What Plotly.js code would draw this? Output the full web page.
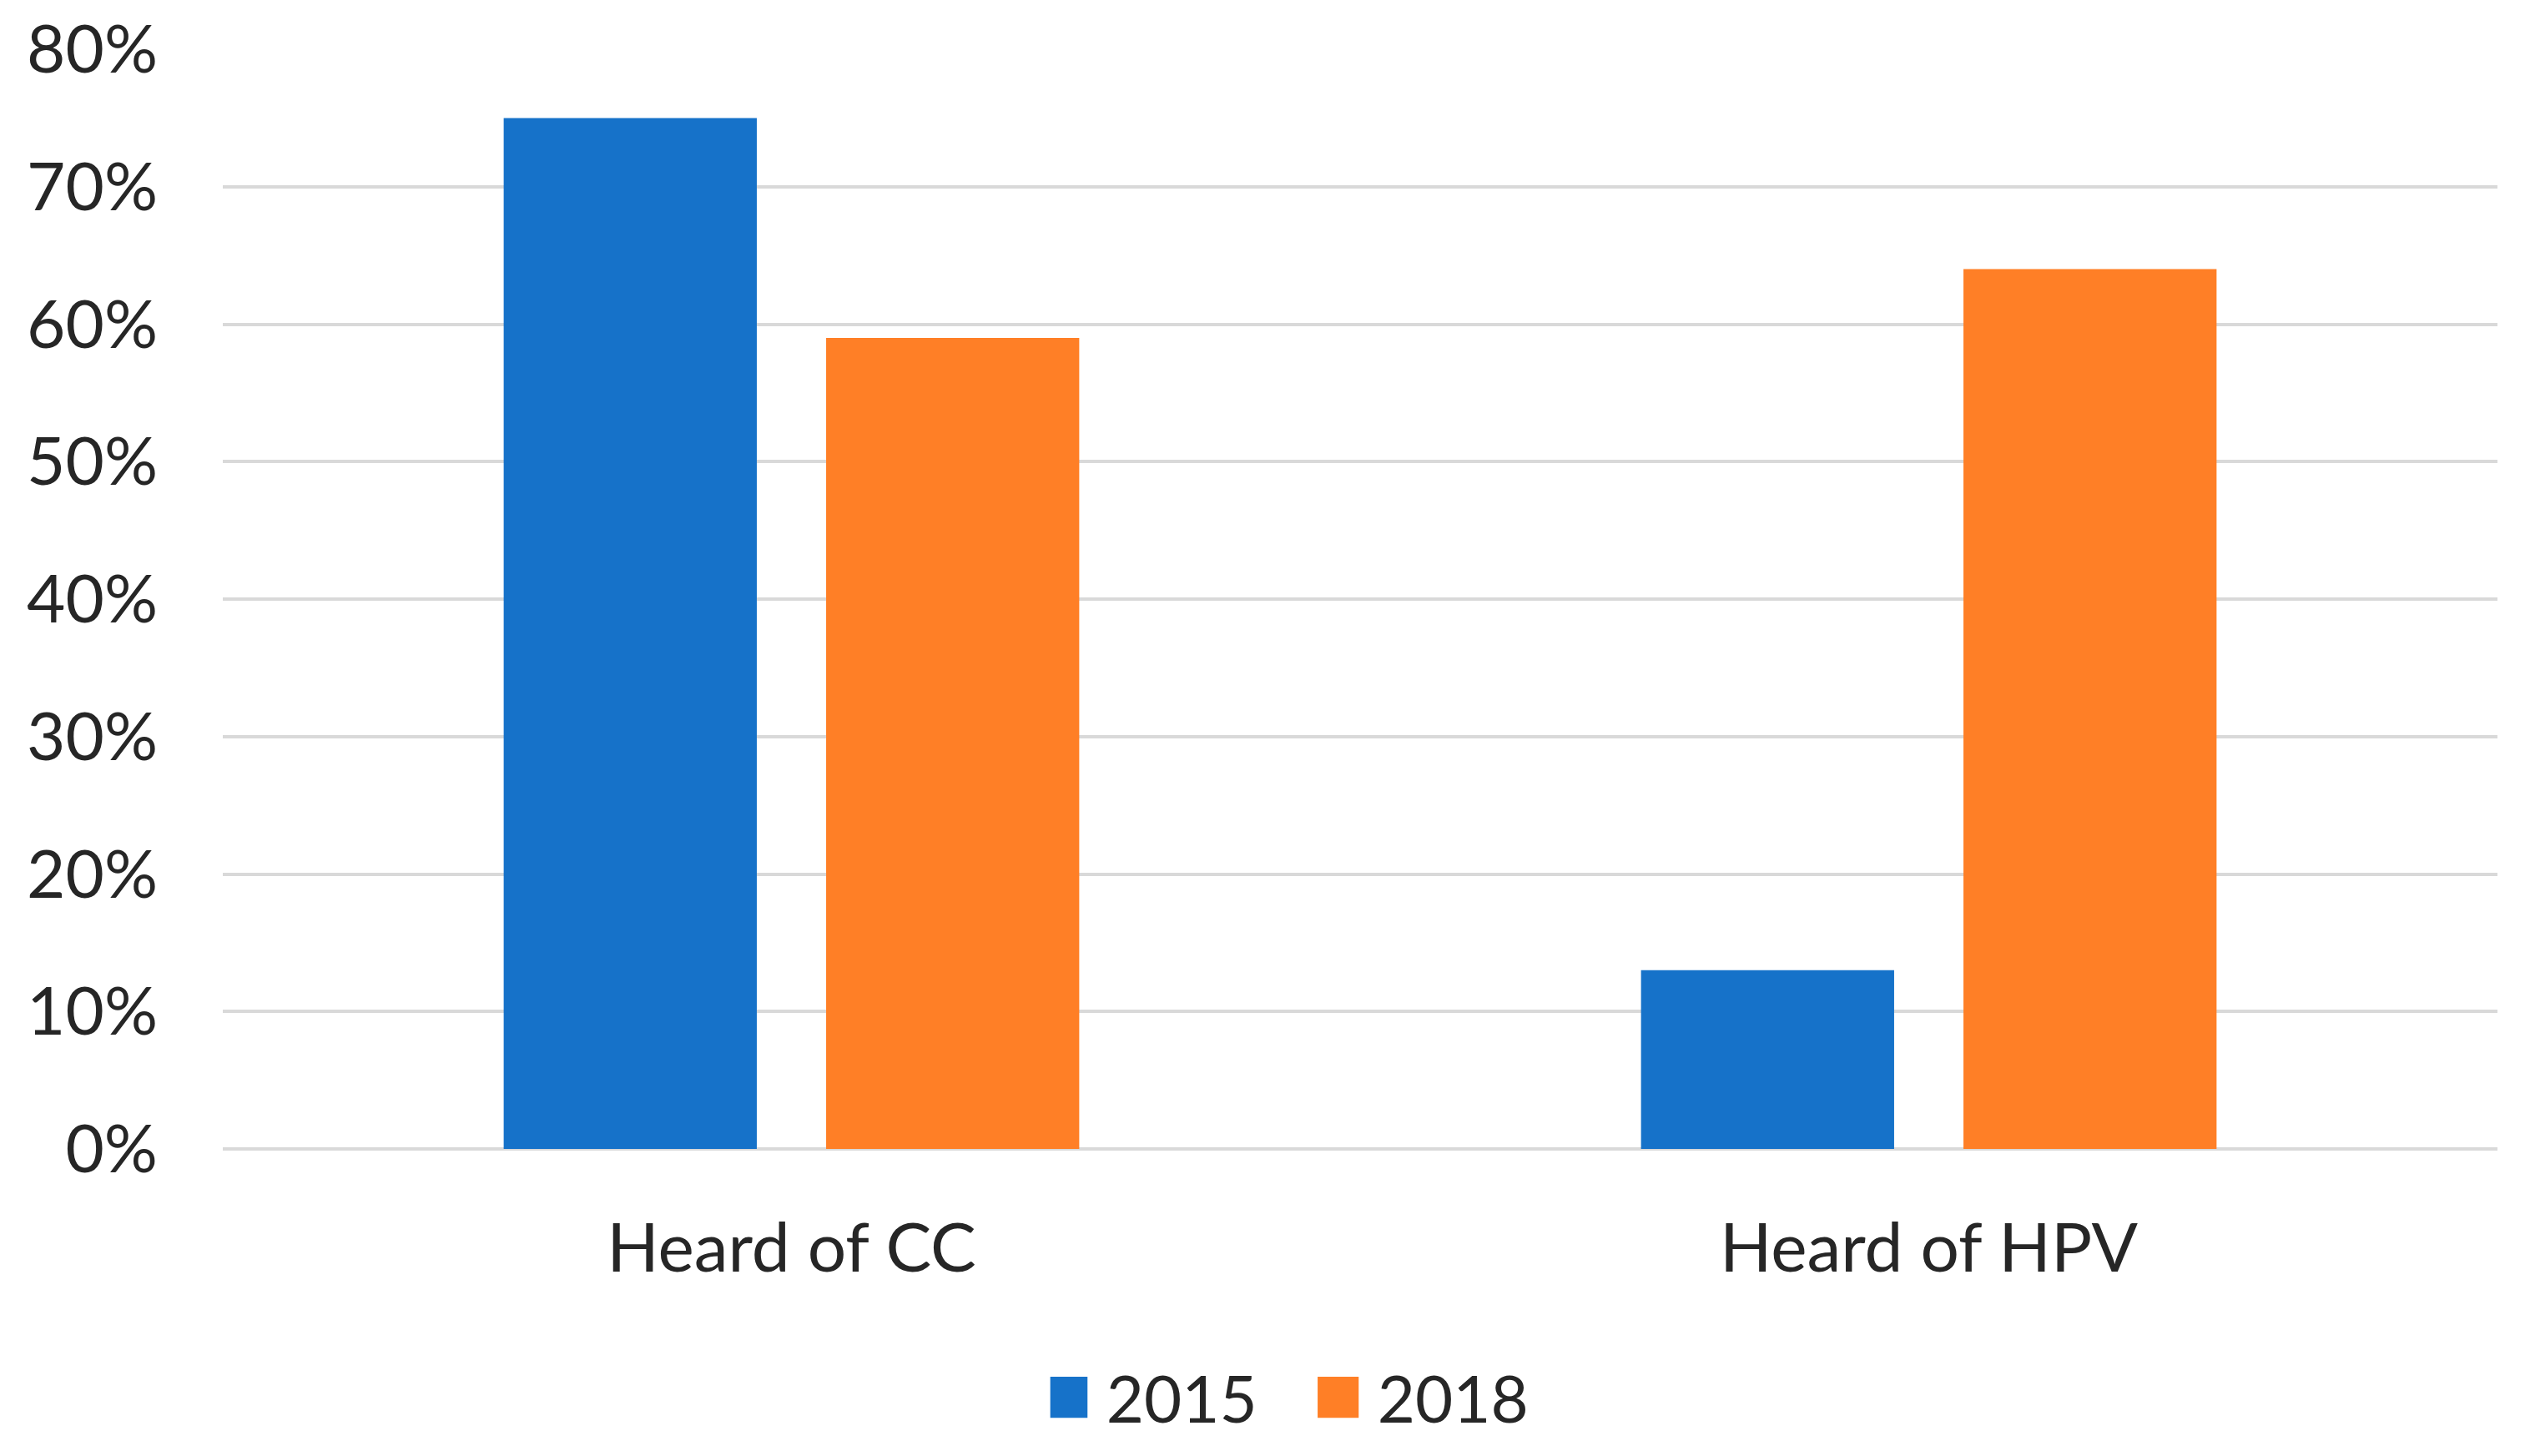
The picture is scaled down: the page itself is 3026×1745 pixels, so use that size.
<!DOCTYPE html>
<html>
<head>
<meta charset="utf-8">
<script src="https://cdn.plot.ly/plotly-3.0.1.min.js"></script>
<style>html,body{margin:0;padding:0;background:#fff;}</style>
</head>
<body>
<div id="chart" style="width:3026px;height:1745px;"></div>
<script>
const categories = ["Heard of CC", "Heard of HPV"];
const seriesNames = ["2015", "2018"];
const values2015 = [0.75, 0.13];
const values2018 = [0.59, 0.64];
const yTickVals = [0, 0.1, 0.2, 0.3, 0.4, 0.5, 0.6, 0.7, 0.8];
const yTickText = ["0%", "10%", "20%", "30%", "40%", "50%", "60%", "70%", "80%"];

const colors = ["#1672C9", "#FF7F26"];
const FONT = "Lato, 'Open Sans', sans-serif";

const traces = [
  {type: "bar", name: seriesNames[0], x: categories, y: values2015, marker: {color: colors[0]}, hoverinfo: "skip"},
  {type: "bar", name: seriesNames[1], x: categories, y: values2018, marker: {color: colors[1]}, hoverinfo: "skip"}
];

const layout = {
  width: 3026, height: 1745,
  margin: {l: 267, r: 33, t: 59, b: 368, pad: 0},
  paper_bgcolor: "#ffffff", plot_bgcolor: "#ffffff",
  font: {family: FONT, color: "#262626", size: 80},
  barmode: "group", bargap: 0.433, bargroupgap: 0.215,
  showlegend: true,
  legend: {
    orientation: "h", x: 0.483, xanchor: "center", y: -0.226, yanchor: "middle",
    entrywidth: 280, entrywidthmode: "pixels",
    font: {family: FONT, size: 78, color: "#262626"},
    itemclick: false, itemdoubleclick: false, traceorder: "normal"
  },
  xaxis: {
    type: "category", showgrid: false, zeroline: false, showline: false,
    ticks: "outside", ticklen: 48, tickcolor: "rgba(0,0,0,0)",
    tickfont: {family: FONT, size: 82, color: "#262626"}, fixedrange: true
  },
  yaxis: {
    range: [0, 0.8], tickvals: yTickVals, ticktext: yTickText,
    showgrid: true, gridcolor: "#d9d9d9", gridwidth: 4,
    zeroline: true, zerolinecolor: "#d9d9d9", zerolinewidth: 4,
    showline: false, ticks: "outside", ticklen: 61, tickcolor: "rgba(0,0,0,0)",
    tickfont: {family: FONT, size: 80, color: "#262626"}, fixedrange: true
  }
};

Plotly.newPlot("chart", traces, layout, {displayModeBar: false, staticPlot: true}).then(function(gd){
  gd.querySelectorAll(".legend .legendpoints path").forEach(function(p){
    p.setAttribute("transform", "translate(20,0) scale(4.1,4.1)");
  });
  gd.querySelectorAll(".legend text.legendtext").forEach(function(t){
    t.setAttribute("x", "67");
  });
});
</script>
</body>
</html>
